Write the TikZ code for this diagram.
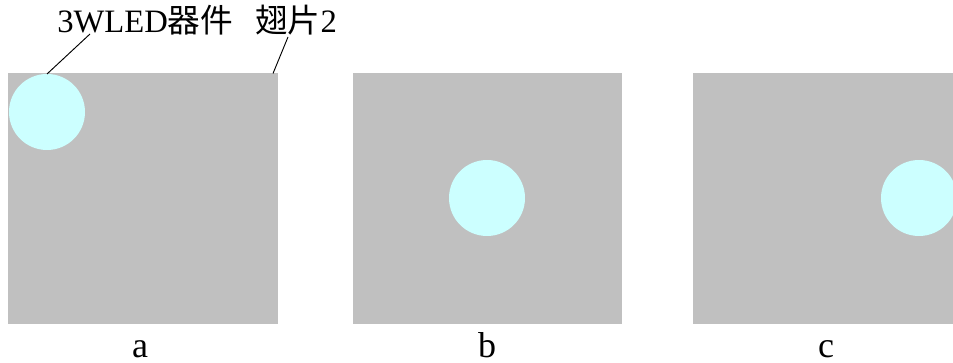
\documentclass[tikz,border=0pt]{standalone}
\usepackage{fontspec}
\setmainfont{Liberation Serif}
\newfontfamily\cjk{Noto Sans CJK SC}
\usepackage{xcolor}
\usetikzlibrary{positioning}
\definecolor{fingray}{HTML}{C0C0C0}
\definecolor{ledcyan}{HTML}{CCFFFF}
\tikzset{
  fin/.style={fill=fingray,inner sep=0pt,outer sep=0pt,minimum height=187.5pt},
  led/.style={circle,fill=ledcyan,inner sep=0pt,outer sep=0pt,minimum size=57pt},
  lbl/.style={anchor=base,inner sep=0pt,font=\fontsize{27}{30}\selectfont}
}
\begin{document}
\begin{tikzpicture}[x=0.75pt,y=-0.75pt,font=\fontsize{24.5}{28}\selectfont]
\useasboundingbox(0,0)rectangle(953,363);
\clip(0,0)rectangle(953,363);
% fins
\node[fin,minimum width=202.5pt](fina)at(143,198.5){};
\node[fin,minimum width=201.75pt](finb)at(487.5,198.5){};
\node[fin,minimum width=202.5pt](finc)at(828,198.5){};
% LED devices
\node[led](leda)at(47,112){};
\node[led](ledb)at(487,198){};
\node[led](ledc)at(919,198){};
% labels
\node[anchor=base west,inner sep=0pt](ledtext)at(57,33){3WLED{\cjk 器件}};
\node[anchor=base west,inner sep=0pt](fintext)at(255,33){{\cjk 翅片}2};
\coordinate(ledtip)at(90,34);
\coordinate(fintip)at(288,37);
\draw[line width=0.7pt](ledtip)--(leda.north);
\draw[line width=0.7pt](fintip)--([xshift=-3.75pt]fina.north east);
\node[lbl](capa)at(140,357){a};
\node[lbl](capb)at(487,357){b};
\node[lbl](capc)at(826,357){c};
\end{tikzpicture}
\end{document}
